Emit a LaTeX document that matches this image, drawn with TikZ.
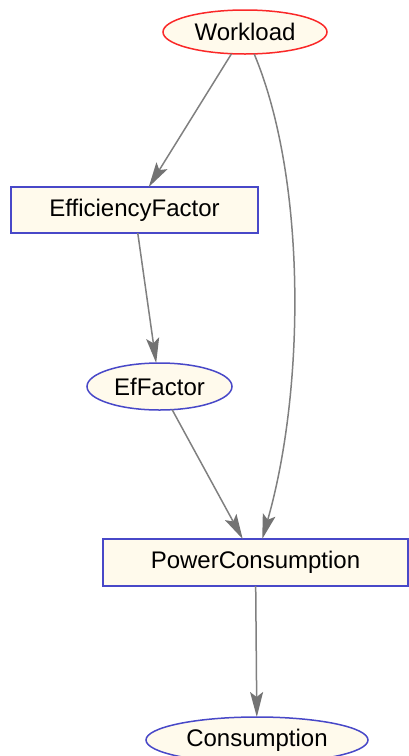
\documentclass[tikz,border=0pt]{standalone}
\usepackage{fontspec}
\setmainfont{Liberation Sans}
\usetikzlibrary{shapes.geometric,arrows.meta}
\definecolor{nodefill}{RGB}{255,250,236}
\definecolor{redline}{RGB}{250,40,40}
\definecolor{blueline}{RGB}{72,72,200}
\definecolor{edgegray}{RGB}{128,128,128}
\definecolor{headgray}{RGB}{115,115,115}
\tikzset{
  base/.style={fill=nodefill, line width=1.5pt, inner sep=0pt, outer sep=0pt,
    font=\fontsize{24}{28}\selectfont},
  chance/.style={base, ellipse, draw=blueline},
  chancered/.style={base, ellipse, draw=redline},
  deter/.style={base, rectangle, draw=blueline},
  link/.style={draw=edgegray, line width=1.5pt,
    -{Stealth[length=25pt, width=13pt, inset=5pt, color=headgray, fill=headgray]}}
}
\begin{document}
\begin{tikzpicture}[x=1pt, y=-1pt]
\useasboundingbox (0,0) rectangle (409,756);
\node[chancered, minimum width=164pt, minimum height=44pt] (W) at (245,32) {Workload};
\node[deter, minimum width=247pt, minimum height=46pt] (EF) at (134.5,210) {EfficiencyFactor};
\node[chance, minimum width=145pt, minimum height=47pt] (EfF) at (159.5,386.5) {EfFactor};
\node[deter, minimum width=305pt, minimum height=47pt] (PC) at (255.5,562.5) {PowerConsumption};
\node[chance, minimum width=222pt, minimum height=46pt] (C) at (257,740) {Consumption};
\draw[link] (W) -- (EF);
\draw[link] (EF) -- (EfF);
\draw[link] (EfF) -- (PC);
\draw[link] (W) .. controls (307,180) and (305,390) .. (PC);
\draw[link] (PC) -- (C);
\end{tikzpicture}
\end{document}
